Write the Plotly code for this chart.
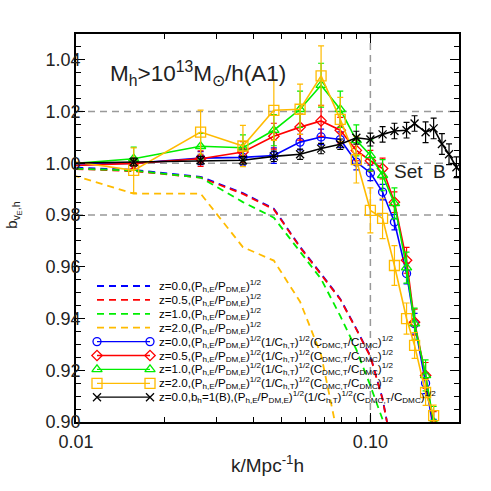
import plotly.graph_objects as go

# wavenumbers (h/Mpc)
k = [0.0052, 0.0157, 0.0265, 0.0369, 0.0470, 0.0577, 0.0680, 0.0790,
     0.0896, 0.1000, 0.1100, 0.1207, 0.1327, 0.1413, 0.1540, 0.1640]
k_b = k + [0.175, 0.185, 0.196, 0.206]

# (P_h,E / P_DM,E)^1/2  (dashed)
dash_z00 = [0.9995, 0.9975, 0.9948, 0.9885, 0.9825, 0.9677, 0.9573, 0.9476, 0.9360, 0.9255, 0.9090, 0.8850]
dash_z05 = [0.9990, 0.9970, 0.9945, 0.9882, 0.9822, 0.9675, 0.9570, 0.9474, 0.9358, 0.9253, 0.9088, 0.8850]
dash_z10 = [0.9990, 0.9972, 0.9945, 0.9850, 0.9790, 0.9660, 0.9553, 0.9410, 0.9280, 0.9140, 0.9010, 0.8800]
dash_z20 = [1.0048, 0.9883, 0.9883, 0.9676, 0.9624, 0.9465, 0.9260, 0.8900]

# corrected bias (solid, with errors)
b_z00 = [0.9993, 1.0000, 1.0020, 1.0023, 1.0030, 1.0082, 1.0102, 1.0092, 1.0005, 0.9963, 0.9889, 0.9773, 0.9574, 0.9380, 0.9150, 0.8970]
e_z00 = [0.002, 0.002, 0.0025, 0.003, 0.003, 0.003, 0.003, 0.003, 0.003, 0.003, 0.003, 0.003, 0.004, 0.004, 0.004, 0.004]
b_z05 = [0.9980, 1.0000, 1.0018, 1.0044, 1.0105, 1.0140, 1.0164, 1.0128, 1.0050, 1.0010, 0.9980, 0.9850, 0.9625, 0.9386, 0.9180, 0.8990]
e_z05 = [0.002, 0.002, 0.003, 0.004, 0.005, 0.005, 0.006, 0.005, 0.004, 0.004, 0.004, 0.004, 0.005, 0.005, 0.005, 0.005]
b_z10 = [0.9974, 1.0018, 1.0066, 1.0060, 1.0128, 1.0209, 1.0302, 1.0209, 1.0089, 1.0031, 0.9954, 0.9845, 0.9597, 0.9380, 0.9180, 0.9000]
e_z10 = [0.003, 0.0045, 0.005, 0.005, 0.006, 0.007, 0.0085, 0.007, 0.006, 0.006, 0.006, 0.006, 0.006, 0.006, 0.006, 0.006]
b_z20 = [1.0052, 0.9973, 1.0121, 1.0067, 1.0205, 1.0209, 1.0338, 1.0170, 1.0014, 0.9818, 0.9787, 0.9605, 0.9400, 0.9296, 0.9114, 0.9025]
e_z20 = [0.004, 0.0087, 0.0085, 0.008, 0.0116, 0.0097, 0.0116, 0.0085, 0.009, 0.0087, 0.0078, 0.0077, 0.006, 0.005, 0.005, 0.004]
b_setB = [0.9996, 1.0005, 1.0012, 1.0012, 1.0027, 1.0035, 1.0057, 1.0074, 1.0099, 1.0092, 1.0112, 1.0125, 1.0128, 1.0154, 1.0120, 1.0135, 1.0075, 1.0035, 0.9985, 0.9960]
e_setB = [0.001, 0.0015, 0.0015, 0.0015, 0.002, 0.002, 0.002, 0.002, 0.0025, 0.0025, 0.003, 0.003, 0.003, 0.003, 0.004, 0.004, 0.004, 0.004, 0.004, 0.004]

ref_y = [0.98, 1.00, 1.02]
ref_k = [0.1]

y_ticks = [0.90, 0.92, 0.94, 0.96, 0.98, 1.00, 1.02, 1.04]
x_ticks = [0.01, 0.1]
x_ticktext = ["0.01", "0.10"]
x_minor = [0.02, 0.03, 0.04, 0.05, 0.06, 0.07, 0.08, 0.09, 0.2]

BLUE, RED, GREEN, YELLOW, BLACK = "#0000ff", "#ff0000", "#00ee00", "#ffbb00", "#000000"
FONT = "Liberation Sans, Arial, sans-serif"
TXT = "#222222"

P = "(P<sub>h,E</sub>/P<sub>DM,E</sub>)<sup>1/2</sup>"
C = "(1/C<sub>h,T</sub>)<sup>1/2</sup>(C<sub>DMC,T</sub>/C<sub>DMC</sub>)<sup>1/2</sup>"

dashed = [
    (dash_z00, BLUE, "z=0.0," + P),
    (dash_z05, RED, "z=0.5," + P),
    (dash_z10, GREEN, "z=1.0," + P),
    (dash_z20, YELLOW, "z=2.0," + P),
]
solid = [
    (k, b_z00, e_z00, BLUE, "circle-open", 8, "z=0.0," + P + C),
    (k, b_z05, e_z05, RED, "diamond-open", 8, "z=0.5," + P + C),
    (k, b_z10, e_z10, GREEN, "triangle-up-open", 9, "z=1.0," + P + C),
    (k, b_z20, e_z20, YELLOW, "square-open", 10, "z=2.0," + P + C),
    (k_b, b_setB, e_setB, BLACK, "x-thin-open", 8, "z=0.0,b<sub>h</sub>=1(B)," + P + C),
]

fig = go.Figure()

for vals, col, name in dashed:
    fig.add_trace(go.Scatter(x=k[:len(vals)], y=vals, mode="lines", name=name,
                             line=dict(color=col, width=1.8, dash="7px,5px"),
                             showlegend=False))

for kk, vals, err, col, sym, sz, name in solid:
    fig.add_trace(go.Scatter(
        x=kk, y=vals, mode="lines+markers", name=name, showlegend=False,
        line=dict(color=col, width=1.6),
        marker=dict(symbol=sym, size=sz, color=col, line=dict(color=col, width=1.3)),
        error_y=dict(type="data", array=err, color=col, thickness=1.2, width=3),
    ))

# hand-drawn legend on an overlay axis measured in pixels
LEG_X0, LEG_X1, LEG_TX = 97, 150, 157
LEG_Y0, LEG_DY = 286, 13.9
entries = [(col, None, None, name) for _, col, name in dashed] + \
          [(col, sym, sz, name) for _, _, _, col, sym, sz, name in solid]
annotations = []
for i, (col, sym, sz, name) in enumerate(entries):
    yy = LEG_Y0 + i * LEG_DY
    if sym is None:
        fig.add_trace(go.Scatter(x=[LEG_X0, LEG_X1], y=[yy, yy], mode="lines",
                                 xaxis="x2", yaxis="y2", showlegend=False, hoverinfo="skip",
                                 line=dict(color=col, width=1.8, dash="7px,5px")))
    else:
        fig.add_trace(go.Scatter(x=[LEG_X0, LEG_X1], y=[yy, yy], mode="lines+markers",
                                 xaxis="x2", yaxis="y2", showlegend=False, hoverinfo="skip",
                                 line=dict(color=col, width=1.3),
                                 marker=dict(symbol=sym, size=sz, color=col,
                                             line=dict(color=col, width=1.3))))
    annotations.append(dict(x=LEG_TX, y=yy, xref="x2", yref="y2", text=name,
                            showarrow=False, xanchor="left", yanchor="middle",
                            font=dict(family=FONT, size=11.6, color="black")))

annotations.append(dict(x=108, y=73, xref="x2", yref="y2",
                        text="M<sub>h</sub>>10<sup>13</sup>M<sub>⊙</sub>/h(A1)",
                        showarrow=False, xanchor="left", yanchor="middle",
                        font=dict(family=FONT, size=22.5, color=TXT)))
annotations.append(dict(x=420, y=171, xref="x2", yref="y2", text="Set  B",
                        showarrow=False, xanchor="center", yanchor="middle",
                        font=dict(family=FONT, size=19, color=TXT)))
# axis titles (paper coordinates, outside the plotting area)
annotations.append(dict(x=-0.162, y=0.534, xref="paper", yref="paper",
                        text="b<sub>v<sub>E</sub>,h</sub>", textangle=-90,
                        showarrow=False, xanchor="center", yanchor="middle",
                        font=dict(family=FONT, size=15, color=TXT)))
annotations.append(dict(x=0.499, y=-0.108, xref="paper", yref="paper",
                        text="k/Mpc<sup>-1</sup>h",
                        showarrow=False, xanchor="center", yanchor="middle",
                        font=dict(family=FONT, size=19, color=TXT)))

shapes = []
for yv in ref_y:
    shapes.append(dict(type="line", xref="paper", yref="y", x0=0, x1=1, y0=yv, y1=yv,
                       layer="below", line=dict(color="#999999", width=1.5, dash="7px,5px")))
for xv in ref_k:
    shapes.append(dict(type="line", xref="x", yref="paper", x0=xv, x1=xv, y0=0, y1=1,
                       layer="below", line=dict(color="#999999", width=1.5, dash="7px,5px")))

fig.update_layout(
    width=491, height=491,
    margin=dict(l=76, r=32, t=34, b=69),
    paper_bgcolor="white", plot_bgcolor="white",
    font=dict(family=FONT, size=18, color=TXT),
    annotations=annotations,
    shapes=shapes,
    xaxis=dict(
        type="log", range=[-2, -0.69897], automargin=False,
        tickmode="array", tickvals=x_ticks, ticktext=x_ticktext, ticklabelstandoff=3,
        ticks="inside", ticklen=9, tickwidth=1.2, tickcolor="black",
        minor=dict(tickmode="array", tickvals=x_minor, ticks="inside", ticklen=5,
                   tickwidth=1.2, tickcolor="black", showgrid=False),
        showline=True, linecolor="black", linewidth=1.5, mirror="ticks",
        showgrid=False, zeroline=False,
    ),
    yaxis=dict(
        range=[0.90, 1.05], automargin=False,
        tickmode="array", tickvals=y_ticks, tickformat=".2f", ticklabelstandoff=-10,
        ticks="inside", ticklen=9, tickwidth=1.2, tickcolor="black",
        minor=dict(dtick=0.005, ticks="inside", ticklen=5, tickwidth=1.2,
                   tickcolor="black", showgrid=False),
        showline=True, linecolor="black", linewidth=1.5, mirror="ticks",
        showgrid=False, zeroline=False,
    ),
    xaxis2=dict(overlaying="x", range=[76, 459], visible=False, anchor="y2"),
    yaxis2=dict(overlaying="y", range=[422, 34], visible=False, anchor="x2"),
)

fig.write_html("out.html", config={"displayModeBar": False},
               post_script="document.body.style.margin='0';")
